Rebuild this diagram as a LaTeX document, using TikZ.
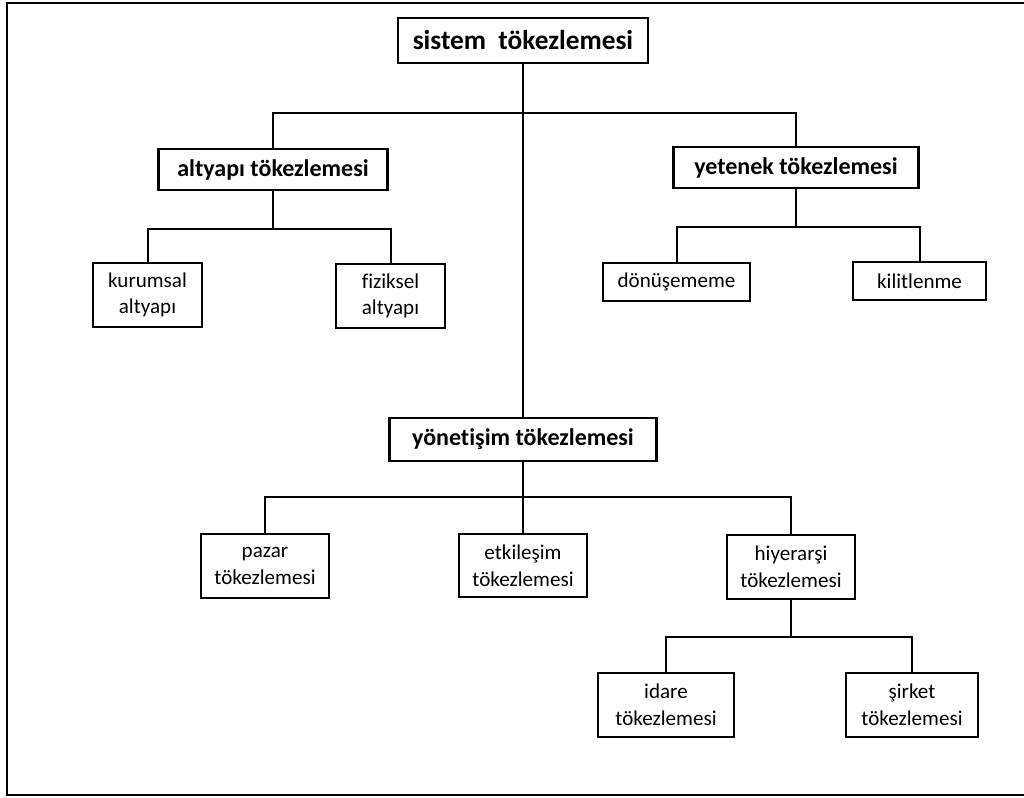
\documentclass[tikz,border=0pt]{standalone}
\usepackage{fontspec}
\setmainfont[Ligatures=NoCommon]{Carlito}
\usepackage{tikz}
\tikzset{
  box/.style={draw, line width=1.7pt, align=center, inner sep=2pt,
    font=\fontsize{15.8}{20}\selectfont},
  headbox/.style={box, font=\bfseries\fontsize{18}{22}\selectfont},
  link/.style={line width=1.5pt},
}

\begin{document}
\begin{tikzpicture}[x=0.75pt,y=-0.75pt]
      \useasboundingbox (0,0) rectangle (1024,798);
      \draw[line width=1.8pt] (1024,3) -- (7,3) -- (7,795) -- (1024,795);
      % top levels
      \node[headbox, font=\bfseries\fontsize{20.5}{24}\selectfont,
        minimum width=187.5pt, minimum height=33.75pt] (sistem) at (523,40.5) {sistem~~tökezlemesi};
      \node[headbox, minimum width=171.75pt, minimum height=30.75pt] (altyapi) at (273,169.5) {altyapı tökezlemesi};
      \node[headbox, minimum width=183.75pt, minimum height=30.75pt] (yetenek) at (796,167.5) {yetenek tökezlemesi};
      \node[headbox, minimum width=200.25pt, minimum height=32.25pt] (yonetisim) at (523,439.5) {yönetişim tökezlemesi};
      % leaves
      \node[box, minimum width=81.75pt, minimum height=48pt] (kurumsal) at (147.5,295) {kurumsal\\altyapı};
      \node[box, minimum width=81.75pt, minimum height=48pt] (fiziksel) at (390.5,296) {fiziksel\\altyapı};
      \node[box, minimum width=110.25pt, minimum height=28.5pt] (donusememe) at (676.5,282) {dönüşememe};
      \node[box, minimum width=99.75pt, minimum height=28.5pt] (kilitlenme) at (919.5,281) {kilitlenme};
      \node[box, minimum width=96pt, minimum height=48pt] (pazar) at (265,566) {pazar\\tökezlemesi};
      \node[box, minimum width=96pt, minimum height=47.25pt] (etkilesim) at (523,565.5) {etkileşim\\tökezlemesi};
      \node[box, minimum width=96pt, minimum height=48pt] (hiyerarsi) at (791,567) {hiyerarşi\\tökezlemesi};
      \node[box, minimum width=102pt, minimum height=48pt] (idare) at (666,705) {idare\\tökezlemesi};
      \node[box, minimum width=99pt, minimum height=48pt] (sirket) at (912,705) {şirket\\tökezlemesi};
      % connectors
      \coordinate (bus1) at (523,113);
      \draw[link] (sistem.south) -- (yonetisim.north);
      \draw[link] (altyapi.north) |- (bus1) -| (yetenek.north);
      \draw[link] (altyapi.south) -- ++(0,37.5) coordinate (bus2);
      \draw[link] (kurumsal.north) |- (bus2) -| (fiziksel.north);
      \draw[link] (yetenek.south) -- ++(0,37.5) coordinate (bus3);
      \draw[link] (donusememe.north) |- (bus3) -| (kilitlenme.north);
      \draw[link] (yonetisim.south) -- (etkilesim.north);
      \coordinate (bus4) at (523,497);
      \draw[link] (pazar.north) |- (bus4) -| (hiyerarsi.north);
      \draw[link] (hiyerarsi.south) -- ++(0,37) coordinate (bus5);
      \draw[link] (idare.north) |- (bus5) -| (sirket.north);
    \end{tikzpicture}
\end{document}
